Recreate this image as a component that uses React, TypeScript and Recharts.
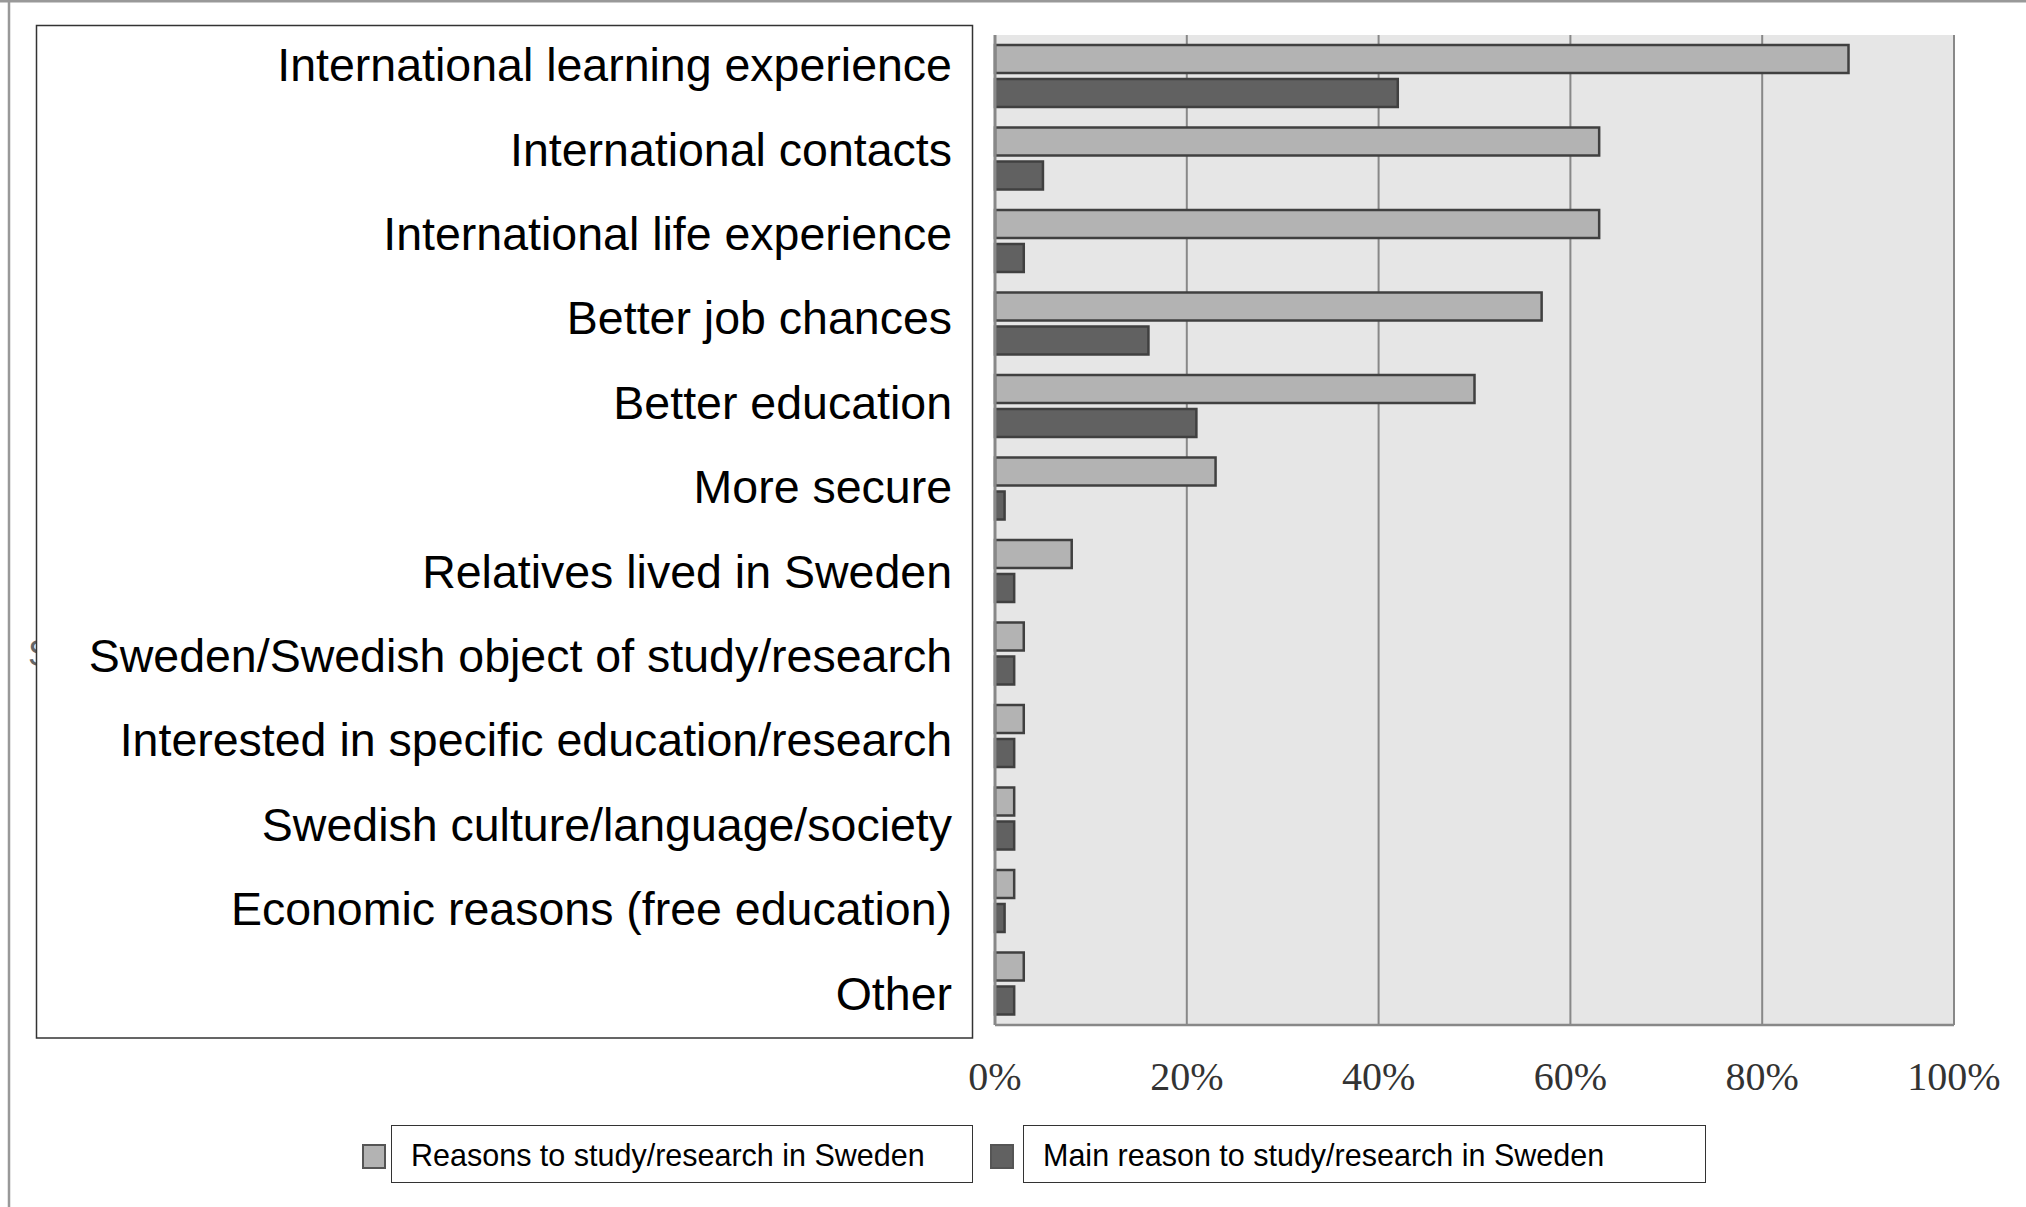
import React from 'react';
import { BarChart, Bar, XAxis, YAxis, CartesianGrid, Legend } from 'recharts';

const categories = [
  'International learning experience',
  'International contacts',
  'International life experience',
  'Better job chances',
  'Better education',
  'More secure',
  'Relatives lived in Sweden',
  'Sweden/Swedish object of study/research',
  'Interested in specific education/research',
  'Swedish culture/language/society',
  'Economic reasons (free education)',
  'Other',
];

const reasonsValues = [89, 63, 63, 57, 50, 23, 8, 3, 3, 2, 2, 3];
const mainValues = [42, 5, 3, 16, 21, 1, 2, 2, 2, 2, 1, 2];
const xTicks = [0, 20, 40, 60, 80, 100];
const seriesNames = ['Reasons to study/research in Sweden', 'Main reason to study/research in Sweden'];

const data = categories.map((name, i) => ({ name, reasons: reasonsValues[i], main: mainValues[i] }));

const SANS = '"Liberation Sans", Arial, sans-serif';
const SERIF = '"Liberation Serif", "Times New Roman", serif';

const YTick = (props: any) => {
  const { x, y, payload } = props;
  const center = -13.3 + 1.023 * y;
  return (
    <text x={x} y={center + 16.6} textAnchor="end" fontFamily={SANS} fontSize={46.5} fill="#000">
      {payload.value}
    </text>
  );
};

const XTick = (props: any) => {
  const { x, y, payload } = props;
  return (
    <text x={x} y={y + 65} textAnchor="middle" fontFamily={SERIF} fontSize={40} fill="#333">
      {`${payload.value}%`}
    </text>
  );
};

const legendPos = [
  { marker: 362, box: 391, width: 582 },
  { marker: 990, box: 1023, width: 683 },
];

const LegendContent = (props: any) => {
  const payload = [...(props.payload || [])].sort(
    (a: any, b: any) => seriesNames.indexOf(a.value) - seriesNames.indexOf(b.value)
  );
  return (
    <div style={{ position: 'relative', width: 2026, height: 60 }}>
      {payload.map((p: any, i: number) => {
        const pos = legendPos[i] || legendPos[0];
        return (
          <React.Fragment key={i}>
            <div
              style={{
                position: 'absolute',
                left: pos.marker,
                top: 19,
                width: 24,
                height: 25,
                boxSizing: 'border-box',
                border: '2.5px solid #555',
                background: p.color,
              }}
            />
            <div
              style={{
                position: 'absolute',
                left: pos.box,
                top: 0,
                width: pos.width,
                height: 58,
                boxSizing: 'border-box',
                border: '1.5px solid #333',
                background: '#fff',
                fontFamily: SANS,
                fontSize: 30.5,
                lineHeight: '58px',
                paddingLeft: 19,
                color: '#000',
                whiteSpace: 'nowrap',
              }}
            >
              {p.value}
            </div>
          </React.Fragment>
        );
      })}
    </div>
  );
};

export default function App() {
  return (
    <div style={{ position: 'absolute', left: 0, top: 0, width: 2026, height: 1207, background: '#fff', overflow: 'hidden' }}>
      <svg width={2026} height={1207} style={{ position: 'absolute', left: 0, top: 0 }}>
        <line x1={0} y1={1.2} x2={2026} y2={1.2} stroke="#999" strokeWidth={2.5} />
        <line x1={9} y1={0} x2={9} y2={1207} stroke="#999" strokeWidth={2.5} />
        <text x={28} y={666} fontFamily={SANS} fontSize={36} fill="#666">S</text>
        <rect x={36.5} y={25.5} width={936} height={1012.5} fill="#fff" stroke="#333" strokeWidth={1.5} />
      </svg>
      <div style={{ position: 'absolute', left: 0, top: 0 }}>
        <BarChart
          width={2026}
          height={1207}
          data={data}
          layout="vertical"
          margin={{ top: 35, right: 72, bottom: 152, left: 0 }}
          barSize={28}
          barGap={6}
        >
          <CartesianGrid horizontal={false} vertical={true} stroke="#888" strokeWidth={2} fill="#e6e6e6" />
          <XAxis
            type="number"
            domain={[0, 100]}
            ticks={xTicks}
            interval={0}
            tick={<XTick />}
            tickLine={false}
            tickSize={0}
            tickMargin={0}
            axisLine={{ stroke: '#888', strokeWidth: 2.5 }}
            height={30}
          />
          <YAxis
            type="category"
            dataKey="name"
            width={995}
            interval={0}
            tick={<YTick />}
            tickLine={false}
            tickSize={0}
            tickMargin={43}
            axisLine={{ stroke: '#888', strokeWidth: 3 }}
          />
          <Legend
            layout="horizontal"
            verticalAlign="middle"
            align="center"
            content={<LegendContent />}
            wrapperStyle={{ position: 'absolute', left: 0, top: 1125, width: 2026, height: 60 }}
          />
          <Bar dataKey="reasons" name={seriesNames[0]} fill="#b3b3b3" stroke="#404040" strokeWidth={2.5} isAnimationActive={false} />
          <Bar dataKey="main" name={seriesNames[1]} fill="#616161" stroke="#404040" strokeWidth={2.5} isAnimationActive={false} />
        </BarChart>
      </div>
    </div>
  );
}
